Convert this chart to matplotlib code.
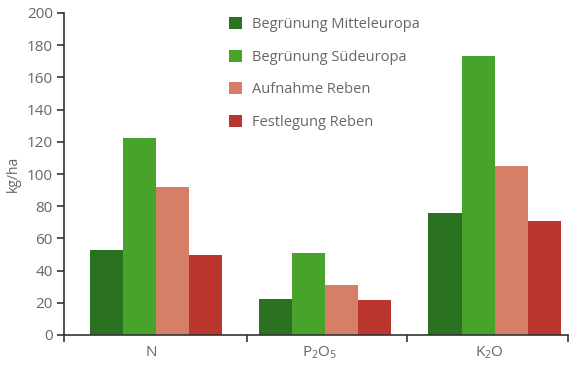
import matplotlib
matplotlib.use('Agg')
import matplotlib.pyplot as plt
import numpy as np

plt.rcParams['font.family'] = ['Open Sans', 'DejaVu Sans']
plt.rcParams['mathtext.fontset'] = 'custom'
plt.rcParams['mathtext.rm'] = 'Open Sans'

categories = ['N', r'$\mathregular{P_2O_5}$', r'$\mathregular{K_2O}$']
series_names = ['Begrünung Mitteleuropa', 'Begrünung Südeuropa',
                'Aufnahme Reben', 'Festlegung Reben']
mitteleuropa = [53, 22.5, 76]
suedeuropa = [122.5, 51, 173]
aufnahme = [92, 31, 105]
festlegung = [50, 21.5, 71]
colors = ['#2a7122', '#47a32b', '#d57f66', '#bb362f']

W, H = 580, 371
fig = plt.figure(figsize=(W / 100, H / 100), dpi=100)
ax = fig.add_axes([64 / W, 36 / H, 504 / W, 322 / H])

x = np.arange(len(categories))
width = 0.195
for i, (vals, name, c) in enumerate(zip([mitteleuropa, suedeuropa, aufnahme, festlegung],
                                        series_names, colors)):
    ax.bar(x + (i - 1.5) * width, vals, width, color=c, label=name, linewidth=0)

ax.set_ylim(0, 200)
ax.set_yticks(np.arange(0, 201, 20))
ax.set_xlim(-0.543, 2.434)
ax.set_xticks([-0.543, 0.537, 1.482, 2.434])
ax.set_xticklabels([])
ax.set_xticks(x - 0.03, minor=True)
ax.set_xticklabels(categories, minor=True)
ax.tick_params(axis='x', which='minor', length=0, pad=7, labelsize=11, labelcolor='#666666')
ax.tick_params(axis='x', which='major', length=5, width=1.2, color='#333333')
ax.tick_params(axis='y', length=5, width=1.2, color='#333333', labelsize=11,
               labelcolor='#666666', pad=3)

for s in ['top', 'right']:
    ax.spines[s].set_visible(False)
for s in ['left', 'bottom']:
    ax.spines[s].set_color('#333333')
    ax.spines[s].set_linewidth(1.2)

ax.set_ylabel('kg/ha', fontsize=10, color='#666666', labelpad=4)

ax.legend(loc='upper left', bbox_to_anchor=(216 / W, 1 - 4 / H),
          bbox_transform=fig.transFigure, frameon=False, fontsize=10.5,
          handlelength=0.9, handleheight=0.9, handletextpad=0.68,
          labelspacing=1.2, labelcolor='#666666')

plt.savefig('out.png', dpi=100)
